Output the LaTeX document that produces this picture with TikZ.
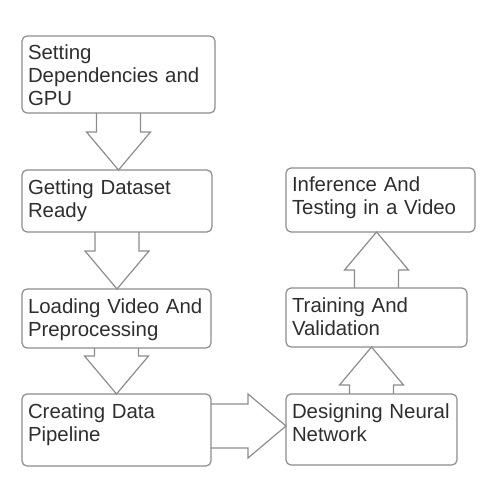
\documentclass[tikz,border=0pt]{standalone}
\usepackage{fontspec}
\setmainfont{Liberation Sans}
\usetikzlibrary{positioning,calc}
\definecolor{boxline}{HTML}{8C8C8C}
\definecolor{boxtext}{HTML}{2E2E2E}

\newcommand{\fatdown}[2]{\draw[fat] let \p1=(#1), \p2=(#2) in
  (\x1-22pt,\y1) -- (\x1-22pt,\y2+38pt) -- (\x1-32pt,\y2+38pt) -- (\x1,\y2)
  -- (\x1+32pt,\y2+38pt) -- (\x1+22pt,\y2+38pt) -- (\x1+22pt,\y1);}
\newcommand{\fatup}[2]{\draw[fat] let \p1=(#1), \p2=(#2) in
  (\x1-22pt,\y1) -- (\x1-22pt,\y2-38pt) -- (\x1-32pt,\y2-38pt) -- (\x1,\y2)
  -- (\x1+32pt,\y2-38pt) -- (\x1+22pt,\y2-38pt) -- (\x1+22pt,\y1);}
\newcommand{\fatright}[2]{\draw[fat] let \p1=(#1), \p2=(#2) in
  (\x1,\y1+22pt) -- (\x2-38pt,\y1+22pt) -- (\x2-38pt,\y1+32pt) -- (\x2,\y1)
  -- (\x2-38pt,\y1-32pt) -- (\x2-38pt,\y1-22pt) -- (\x1,\y1-22pt);}

\begin{document}
\begin{tikzpicture}[x=1pt, y=-1pt, box/.style={rectangle, draw=boxline, line width=1.2pt, rounded corners=5pt, anchor=north west, inner xsep=6pt, inner ysep=0pt, outer sep=0pt, align=left, text height=24pt, text=boxtext, font=\fontsize{20.4pt}{23pt}\selectfont}, fat/.style={draw=boxline, line width=1.2pt, line join=miter}]

  \useasboundingbox (0,0) rectangle (489,486);

  \node[box, text width=181pt, text depth=53pt] (setup) at (22,36) {Setting\\Dependencies and\\GPU};
  \node[box, text width=178pt, text depth=38pt, below=57pt of setup.south west, anchor=north west] (dataset) {Getting Dataset\\Ready};
  \node[box, text width=177pt, text depth=35pt, below=57pt of dataset.south west, anchor=north west] (loading) {Loading Video And\\Preprocessing};
  \node[box, text width=177pt, text depth=48pt, below=46pt of loading.south west, anchor=north west] (pipeline) {Creating Data\\Pipeline};
  \node[box, text width=159pt, text depth=47pt, right=75pt of pipeline.north east, anchor=north west] (design) {Designing Neural\\Network};
  \node[box, text width=169pt, text depth=35pt, above=47pt of design.north west, anchor=south west] (training) {Training And\\Validation};
  \node[box, text width=177pt, text depth=40pt, above=56pt of training.north west, anchor=south west] (inference) {Inference And\\Testing in a Video};

  \fatdown{setup.south}{dataset.north}
  \fatdown{dataset.south}{loading.north}
  \fatdown{loading.south}{pipeline.north}
  \fatright{$(pipeline.east)+(0,-4)$}{design.west}
  \fatup{design.north}{training.south}
  \fatup{training.north}{inference.south}
\end{tikzpicture}
\end{document}
